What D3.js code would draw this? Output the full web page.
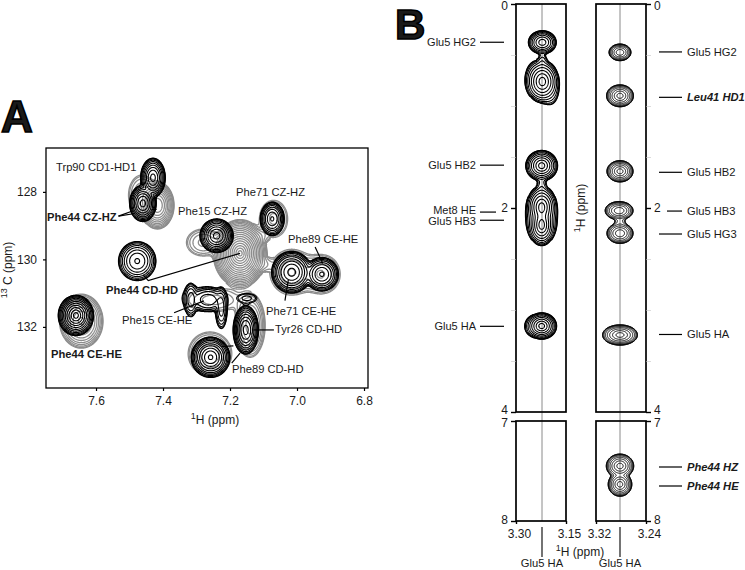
<!DOCTYPE html>
<html>
<head>
<meta charset="utf-8">
<style>
  html, body { margin: 0; padding: 0; background: #fff; overflow: hidden; }
  svg text { font-family: "Liberation Sans", Arial, sans-serif; fill: #1a1a1a; }
</style>
<script src="https://cdn.jsdelivr.net/npm/d3@7"></script>
</head>
<body>
<svg id="chart" width="745" height="570"></svg>
<script>
// each peak: [1H ppm, other axis ppm, half width 1H, half width other axis, contour count]
var blackPeaksA = [
  [7.430, 127.58, 0.037, 0.58, 15],  // Trp90 CD1-HD1
  [7.460, 128.34, 0.040, 0.54, 15],  // Phe44 CZ-HZ
  [7.240, 129.30, 0.050, 0.50, 15],  // Phe15 CZ-HZ
  [7.074, 128.80, 0.036, 0.50, 13],  // Phe71 CZ-HZ
  [7.477, 130.05, 0.056, 0.58, 13],  // Phe44 CD-HD
  [7.660, 131.66, 0.053, 0.60, 17],  // Phe44 CE-HE
  [7.016, 130.38, 0.060, 0.62, 15],  // Phe71 CE-HE
  [6.926, 130.44, 0.050, 0.50, 13],  // Phe89 CE-HE
  [7.258, 132.90, 0.058, 0.60, 16],  // Phe89 CD-HD
  [7.153, 132.09, 0.038, 0.72, 15],  // Tyr26 CD-HD
  [7.317, 131.20, 0.020, 0.50, 8],   // Phe15 CE-HE group
  [7.265, 131.20, 0.048, 0.35, 8],
  [7.226, 131.45, 0.018, 0.60, 8],
  [7.280, 131.15, 0.060, 0.28, 3],
  [7.150, 131.15, 0.030, 0.14, 2]
];
var greyPeaksA = [
  [7.644, 131.83, 0.065, 0.80, 10],
  [7.417, 128.40, 0.050, 0.70, 12],
  [7.463, 128.10, 0.040, 0.60, 4],
  [7.170, 129.82, 0.080, 1.00, 16],
  [7.280, 129.50, 0.050, 0.40, 4],
  [7.070, 128.80, 0.042, 0.55, 4],
  [7.112, 129.30, 0.022, 0.14, 2],
  [7.100, 130.15, 0.022, 0.16, 2],
  [7.016, 130.38, 0.065, 0.68, 5],
  [6.926, 130.44, 0.055, 0.58, 5],
  [7.260, 132.80, 0.065, 0.65, 6],
  [7.140, 131.95, 0.045, 0.95, 8],
  [7.250, 131.20, 0.080, 0.35, 3]
];
var leftStripPeaks = [
  [3.221, 0.376, 0.042, 0.115, 13],
  [3.221, 0.560, 0.012, 0.070, 3],
  [3.221, 0.760, 0.050, 0.210, 14],
  [3.245, 0.720, 0.022, 0.130, 3],
  [3.197, 0.860, 0.022, 0.120, 3],
  [3.223, 1.585, 0.048, 0.150, 14],
  [3.223, 1.780, 0.012, 0.090, 3],
  [3.223, 1.990, 0.045, 0.210, 14],
  [3.223, 2.170, 0.040, 0.200, 14],
  [3.250, 2.100, 0.020, 0.150, 3],
  [3.197, 2.100, 0.020, 0.150, 3],
  [3.223, 3.157, 0.045, 0.130, 14],
  [3.252, 3.160, 0.020, 0.080, 3]
];
var rightStripPeaks = [
  [3.2816, 0.474, 0.0176, 0.082, 13],
  [3.2816, 0.900, 0.0216, 0.108, 14],
  [3.2816, 1.640, 0.0210, 0.105, 14],
  [3.2830, 2.026, 0.0224, 0.090, 13],
  [3.2816, 2.140, 0.0080, 0.050, 3],
  [3.2816, 2.248, 0.0210, 0.100, 13],
  [3.2816, 3.245, 0.0280, 0.100, 14]
];
var rightLowerPeaks = [
  [3.2816, 7.450, 0.0220, 0.120, 13],
  [3.2816, 7.633, 0.0190, 0.120, 13]
];

var tickHA = [7.6, 7.4, 7.2, 7.0, 6.8];
var tickCA = [128, 130, 132];
var majorTop = [0, 2, 4];
var minorTop = [0.5, 1, 1.5, 2.5, 3, 3.5];
var majorLow = [7, 8];

// name, 1H ppm of the strip annotation, nudge of the text
var leftStripLabels = [
  ["Glu5 HG2", 0.375, 0], ["Glu5 HB2", 1.58, 0], ["Met8 HE", 2.04, -2],
  ["Glu5 HB3", 2.12, 1], ["Glu5 HA", 3.16, 0]
];
var rightStripLabels = [
  ["Glu5 HG2", 0.47, false], ["Leu41 HD1", 0.915, true], ["Glu5 HB2", 1.65, false],
  ["Glu5 HB3", 2.03, false], ["Glu5 HG3", 2.255, false], ["Glu5 HA", 3.24, false]
];
var rightLowerLabels = [["Phe44 HZ", 7.46], ["Phe44 HE", 7.65]];

// assignment labels of panel A: text, bold, left edge, baseline
var labelsA = [
  ["Trp90 CD1-HD1", false, 56, 171], ["Phe44 CZ-HZ", true, 47, 221],
  ["Phe15 CZ-HZ", false, 178, 215], ["Phe71 CZ-HZ", false, 236, 196],
  ["Phe89 CE-HE", false, 288, 243], ["Phe44 CD-HD", true, 106, 294],
  ["Phe71 CE-HE", false, 266, 315], ["Phe15 CE-HE", false, 122, 324],
  ["Tyr26 CD-HD", false, 275, 333], ["Phe44 CE-HE", true, 51, 358],
  ["Phe89 CD-HD", false, 232, 373]
];
// leader lines of panel A in ppm, [1H, 13C] per vertex
var leadersA = [
  [[7.533, 128.72], [7.489, 128.56]],
  [[7.533, 128.72], [7.484, 128.64]],
  [[7.434, 128.52], [7.419, 128.52]],
  [[7.459, 130.46], [7.444, 130.63], [7.170, 129.82]],
  [[6.946, 129.63], [6.923, 130.12]],
  [[7.036, 131.22], [7.026, 130.61]],
  [[7.367, 131.58], [7.278, 131.23]],
  [[7.130, 132.09], [7.069, 132.09]],
  [[7.195, 133.07], [7.170, 132.78]],
  [[7.225, 132.58], [7.190, 132.56]]
];

var svg = d3.select("#chart");
var SHAPE = 2;
var RATIO = 1.45;

function drawContours(g, peaks, x, y, color, width, scale, rings, crowding) {
  var rx = x.range(), ry = y.range();
  var n = Math.round((rx[1] - rx[0]) * scale);
  var m = Math.round((ry[1] - ry[0]) * scale);
  var values = new Float64Array(n * m);

  peaks.forEach(function (p) {
    var lnh = p[4] * Math.log(RATIO);
    for (var j = 0; j < m; j++) {
      var vy = y.invert(ry[0] + (j + 0.5) / scale);
      var dy = Math.pow(Math.abs(vy - p[1]) / p[3], SHAPE);
      if (dy > 2) continue;
      for (var i = 0; i < n; i++) {
        var vx = x.invert(rx[0] + (i + 0.5) / scale);
        var dx = Math.pow(Math.abs(vx - p[0]) / p[2], SHAPE);
        if (dx > 2) continue;
        values[j * n + i] += Math.exp(lnh * (1 - dx - dy));
      }
    }
  });

  // levels picked so the rings crowd on the flanks and open up at the top
  var top = d3.max(peaks, function (p) { return p[4]; });
  var thresholds = d3.range(0, rings).map(function (k) {
    var r = 1 - Math.pow(k / rings, crowding);
    return Math.pow(RATIO, top * (1 - r * r));
  });
  var contours = d3.contours().size([n, m]).smooth(true).thresholds(thresholds)(values);

  var path = d3.geoPath(d3.geoTransform({
    point: function (px, py) {
      this.stream.point(rx[0] + px / scale, ry[0] + py / scale);
    }
  }));

  g.append("g")
    .attr("fill", "none")
    .attr("stroke", color)
    .attr("stroke-width", width)
    .attr("stroke-linejoin", "round")
    .selectAll("path")
    .data(contours)
    .enter().append("path")
    .attr("d", path);
}

function styleAxis(g, strokeWidth, fontSize) {
  g.select(".domain").remove();
  g.selectAll("line").attr("stroke", "#000").attr("stroke-width", strokeWidth);
  g.selectAll("text").style("font-size", fontSize + "px").attr("fill", "#1a1a1a");
}

function frame(x, y, width) {
  svg.append("rect")
    .attr("x", x.range()[0])
    .attr("y", y.range()[0])
    .attr("width", x.range()[1] - x.range()[0])
    .attr("height", y.range()[1] - y.range()[0])
    .attr("fill", "none")
    .attr("stroke", "#000")
    .attr("stroke-width", width);
}

// label with a raised leading 1 / 13
function supLabel(sel, sup, rest) {
  sel.append("tspan").attr("dy", "-0.4em").style("font-size", "9px").text(sup);
  sel.append("tspan").attr("dy", "0.4em").text(rest);
}

/* ------ panel A ------ */
var xA = d3.scaleLinear().domain([7.7493, 6.7881]).range([46, 368]);
var yA = d3.scaleLinear().domain([126.70, 133.81]).range([148, 388]);

var plotA = svg.append("g");
drawContours(plotA, greyPeaksA, xA, yA, "#8c8c8c", 1.3, 2, 18, 1.4);
drawContours(plotA, blackPeaksA, xA, yA, "#000", 1.1, 2, 12, 1.7);
frame(xA, yA, 1.3);

svg.append("g")
  .attr("transform", "translate(0,388)")
  .call(d3.axisBottom(xA).tickValues(tickHA).tickFormat(d3.format(".1f")).tickSize(3).tickPadding(5))
  .call(styleAxis, 1.2, 12);
svg.append("g")
  .attr("transform", "translate(46,0)")
  .call(d3.axisLeft(yA).tickValues(tickCA).tickFormat(d3.format("d")).tickSize(3).tickPadding(6))
  .call(styleAxis, 1.2, 12);

var leaderLine = d3.line()
  .x(function (d) { return xA(d[0]); })
  .y(function (d) { return yA(d[1]); });
svg.append("g")
  .attr("fill", "none")
  .attr("stroke", "#000")
  .attr("stroke-width", 1.2)
  .selectAll("path")
  .data(leadersA)
  .enter().append("path")
  .attr("d", leaderLine);

svg.append("g")
  .selectAll("text")
  .data(labelsA)
  .enter().append("text")
  .attr("x", function (d) { return d[2]; })
  .attr("y", function (d) { return d[3]; })
  .style("font-size", "11.2px")
  .style("font-weight", function (d) { return d[1] ? "bold" : "normal"; })
  .text(function (d) { return d[0]; });

svg.append("text")
  .attr("x", 215).attr("y", 423)
  .attr("text-anchor", "middle")
  .style("font-size", "12px")
  .call(supLabel, "1", "H  (ppm)");
svg.append("text")
  .attr("transform", "translate(11,270) rotate(-90)")
  .attr("text-anchor", "middle")
  .style("font-size", "12px")
  .call(supLabel, "13", " C  (ppm)");

/* ------ panel B ------ */
var xLeft = d3.scaleLinear().domain([3.30, 3.15]).range([516, 566]);
var xRight = d3.scaleLinear().domain([3.32, 3.24]).range([596, 646]);
var yTop = d3.scaleLinear().domain([0, 4]).range([4, 412]);
var yLow = d3.scaleLinear().domain([7, 8]).range([421, 521]);

// strip carrier lines
var carrier = svg.append("g").attr("stroke", "#8a8a8a").attr("stroke-width", 1);
[[xLeft, 3.222], [xRight, 3.2816]].forEach(function (c) {
  carrier.append("line")
    .attr("x1", c[0](c[1])).attr("x2", c[0](c[1]))
    .attr("y1", yTop(0)).attr("y2", yLow(8));
});

var plotB = svg.append("g");
drawContours(plotB, leftStripPeaks, xLeft, yTop, "#000", 1.1, 3, 10, 2.0);
drawContours(plotB, rightStripPeaks, xRight, yTop, "#000", 1.0, 3, 9, 2.2);
drawContours(plotB, rightLowerPeaks, xRight, yLow, "#000", 1.0, 3, 9, 2.2);

frame(xLeft, yTop, 1.7);
frame(xLeft, yLow, 1.7);
frame(xRight, yTop, 1.7);
frame(xRight, yLow, 1.7);

// the 0, 4, 7 and 8 sit slightly off their ticks so they stay clear of their neighbours
var labelShift = { 0: 2, 4: -2, 7: 2, 2: 0, 8: -1 };

function stripAxes(axisFn, px) {
  svg.append("g")
    .attr("transform", "translate(" + px + ",0)")
    .call(axisFn(yTop).tickValues(minorTop).tickFormat("").tickSize(5))
    .call(styleAxis, 0.6, 12)
    .selectAll("line").attr("stroke", "#c4c4c4");
  [[yTop, majorTop], [yLow, majorLow]].forEach(function (a) {
    svg.append("g")
      .attr("transform", "translate(" + px + ",0)")
      .call(axisFn(a[0]).tickValues(a[1]).tickFormat(d3.format("d")).tickSize(5).tickPadding(3))
      .call(styleAxis, 1.4, 12)
      .selectAll("text").attr("y", function (d) { return labelShift[d]; });
  });
}
stripAxes(d3.axisLeft, 516);
stripAxes(d3.axisRight, 646);

[[xLeft, [3.30, 3.15]], [xRight, [3.32, 3.24]]].forEach(function (b) {
  svg.append("g")
    .attr("transform", "translate(0,521)")
    .call(d3.axisBottom(b[0]).tickValues(b[1]).tickFormat(d3.format(".2f")).tickSize(3).tickPadding(5))
    .call(styleAxis, 1.4, 12)
    .selectAll("text").attr("dx", 3);
});

// annotation lines and names of both strips
var leftAnno = svg.append("g");
leftStripLabels.forEach(function (d) {
  leftAnno.append("line")
    .attr("x1", 480).attr("x2", d[0] === "Met8 HE" ? 496 : 504)
    .attr("y1", yTop(d[1])).attr("y2", yTop(d[1]))
    .attr("stroke", "#000").attr("stroke-width", 1.2);
  leftAnno.append("text")
    .attr("x", 476).attr("y", yTop(d[1]) + 4 + d[2])
    .attr("text-anchor", "end")
    .style("font-size", "11px")
    .text(d[0]);
});

var rightAnno = svg.append("g");
function rightLabel(name, ypx, italicBold) {
  rightAnno.append("line")
    .attr("x1", name === "Glu5 HB3" ? 667 : 659).attr("x2", 682)
    .attr("y1", ypx).attr("y2", ypx)
    .attr("stroke", "#000").attr("stroke-width", 1.2);
  rightAnno.append("text")
    .attr("x", 687).attr("y", ypx + 4)
    .style("font-size", "11.2px")
    .style("font-weight", italicBold ? "bold" : "normal")
    .style("font-style", italicBold ? "italic" : "normal")
    .text(name);
}
rightStripLabels.forEach(function (d) { rightLabel(d[0], yTop(d[1]), d[2]); });
rightLowerLabels.forEach(function (d) { rightLabel(d[0], yLow(d[1]), true); });

// pointers under the strips
[[xLeft, 3.222], [xRight, 3.2816]].forEach(function (c) {
  svg.append("line")
    .attr("x1", c[0](c[1])).attr("x2", c[0](c[1]))
    .attr("y1", 527).attr("y2", 557)
    .attr("stroke", "#000").attr("stroke-width", 1.1);
  svg.append("text")
    .attr("x", c[0](c[1])).attr("y", 567)
    .attr("text-anchor", "middle")
    .style("font-size", "11.2px")
    .text("Glu5 HA");
});

svg.append("text")
  .attr("x", 580).attr("y", 555)
  .attr("text-anchor", "middle")
  .style("font-size", "12px")
  .call(supLabel, "1", "H  (ppm)");
svg.append("text")
  .attr("transform", "translate(584,208) rotate(-90)")
  .attr("text-anchor", "middle")
  .style("font-size", "12px")
  .call(supLabel, "1", "H  (ppm)");

// panel letters
svg.append("text").attr("x", 1).attr("y", 132)
  .style("font-size", "44px").style("font-weight", "bold")
  .attr("stroke", "#000").attr("stroke-width", 1.6)
  .text("A");
svg.append("text").attr("x", 395).attr("y", 39)
  .style("font-size", "42px").style("font-weight", "bold")
  .attr("stroke", "#000").attr("stroke-width", 1.6)
  .text("B");
</script>
</body>
</html>
